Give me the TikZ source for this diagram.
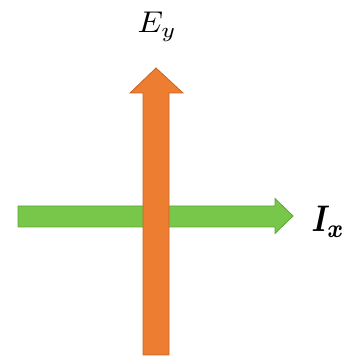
\documentclass[tikz,border=0pt]{standalone}
\usepackage{amsmath}
\usepackage{bm}
\definecolor{arrgreen}{RGB}{120,198,74}
\definecolor{arrgreenline}{RGB}{92,165,55}
\definecolor{arrorange}{RGB}{237,125,49}
\definecolor{arrorangeline}{RGB}{200,100,35}
\begin{document}
\begin{tikzpicture}[x=1pt,y=1pt,
  greenarrow/.style={fill=arrgreen,draw=arrgreenline,line width=0.8pt,line join=miter},
  orangearrow/.style={fill=arrorange,draw=arrorangeline,line width=0.8pt,line join=miter},
  lbl/.style={inner sep=0pt,anchor=base west,transform shape}]
\useasboundingbox (0,0) rectangle (345,357);
% horizontal green arrow
\draw[greenarrow] (18,130) -- (275,130) -- (275,123.5) -- (293,141) -- (275,158.5) -- (275,151) -- (18,151) -- cycle;
% vertical orange arrow
\draw[orangearrow] (143,2) -- (169,2) -- (169,264) -- (183,264) -- (156,289) -- (130,264) -- (143,264) -- cycle;
% labels
\node[lbl,xscale=3.2,yscale=3.0] (ey) at (137,324) {$E_y$};
\node[lbl,xscale=3.1,yscale=3.7] (ix) at (311,125) {$\bm{I}_{\bm{x}}$};
\end{tikzpicture}
\end{document}
